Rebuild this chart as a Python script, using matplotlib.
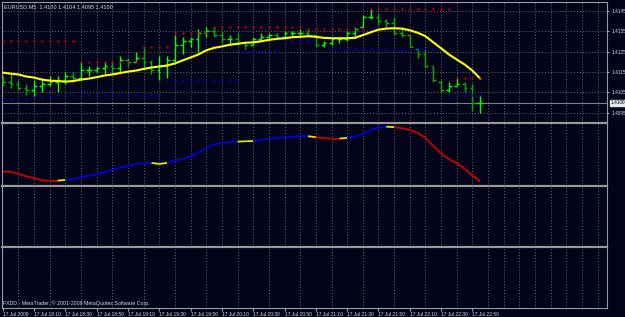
import matplotlib
matplotlib.use("Agg")
import matplotlib.pyplot as plt
from matplotlib.collections import LineCollection

# ---------------- data (EURUSD M5, 17 Jul 2009 17:50 - 22:55) ----------------
highs = [1.4113, 1.4114, 1.4111, 1.4109, 1.4111, 1.4112, 1.4113, 1.4113, 1.4115, 1.4115,
         1.4120, 1.4118, 1.4118, 1.4120, 1.4120, 1.4123, 1.4122, 1.4125, 1.4127, 1.4121,
         1.4123, 1.4123, 1.4133, 1.4132, 1.4132, 1.4136, 1.4137, 1.4137, 1.4135, 1.4133,
         1.4134, 1.4130, 1.4132, 1.4134, 1.4134, 1.4134, 1.4135, 1.4135, 1.4136, 1.4136,
         1.4133, 1.4130, 1.4131, 1.4132, 1.4135, 1.4137, 1.4143, 1.4146, 1.4144, 1.4141,
         1.4142, 1.4137, 1.4133, 1.4126, 1.4126, 1.4118, 1.4111, 1.4110, 1.4112, 1.4110,
         1.4109, 1.4104]
lows = [1.4108, 1.4107, 1.4106, 1.4104, 1.4103, 1.4105, 1.4108, 1.4105, 1.4109, 1.4110,
        1.4111, 1.4113, 1.4115, 1.4114, 1.4114, 1.4115, 1.4118, 1.4120, 1.4117, 1.4114,
        1.4111, 1.4112, 1.4120, 1.4124, 1.4127, 1.4125, 1.4132, 1.4132, 1.4129, 1.4128,
        1.4128, 1.4126, 1.4128, 1.4130, 1.4131, 1.4131, 1.4131, 1.4132, 1.4132, 1.4132,
        1.4127, 1.4127, 1.4128, 1.4129, 1.4130, 1.4132, 1.4137, 1.4141, 1.4138, 1.4137,
        1.4133, 1.4132, 1.4127, 1.4122, 1.4117, 1.4110, 1.4105, 1.4105, 1.4108, 1.4105,
        1.4096, 1.4095]
opens = [1.4111, 1.4110, 1.4109, 1.4107, 1.4106, 1.4108, 1.4109, 1.4110, 1.4111, 1.4113,
         1.4112, 1.4116, 1.4116, 1.4117, 1.4118, 1.4117, 1.4121, 1.4120, 1.4122, 1.4120,
         1.4116, 1.4118, 1.4121, 1.4128, 1.4130, 1.4131, 1.4134, 1.4135, 1.4133, 1.4131,
         1.4131, 1.4129, 1.4128, 1.4131, 1.4132, 1.4133, 1.4132, 1.4134, 1.4134, 1.4134,
         1.4133, 1.4128, 1.4129, 1.4131, 1.4131, 1.4134, 1.4137, 1.4142, 1.4142, 1.4140,
         1.4139, 1.4134, 1.4133, 1.4126, 1.4124, 1.4118, 1.4110, 1.4106, 1.4108, 1.4109,
         1.4107, 1.4100]
closes = [1.4110, 1.4109, 1.4107, 1.4106, 1.4108, 1.4109, 1.4110, 1.4111, 1.4113, 1.4112,
          1.4116, 1.4116, 1.4117, 1.4118, 1.4117, 1.4121, 1.4120, 1.4122, 1.4120, 1.4116,
          1.4118, 1.4121, 1.4128, 1.4130, 1.4131, 1.4134, 1.4135, 1.4133, 1.4131, 1.4131,
          1.4129, 1.4128, 1.4131, 1.4132, 1.4133, 1.4132, 1.4134, 1.4134, 1.4134, 1.4133,
          1.4128, 1.4129, 1.4131, 1.4131, 1.4134, 1.4136, 1.4142, 1.4142, 1.4140, 1.4139,
          1.4134, 1.4133, 1.4127, 1.4124, 1.4118, 1.4111, 1.4106, 1.4108, 1.4109, 1.4107,
          1.4100, 1.4100]

# yellow moving average
ma = [1.41147, 1.41142, 1.41138, 1.41128, 1.41123, 1.41113, 1.41108, 1.41106, 1.41103, 1.41106,
      1.41113, 1.41118, 1.41125, 1.41133, 1.41138, 1.41145, 1.41152, 1.41157, 1.41165, 1.41172,
      1.41177, 1.41182, 1.41192, 1.41207, 1.41221, 1.41236, 1.41256, 1.41268, 1.41275, 1.41283,
      1.41288, 1.41293, 1.41295, 1.41300, 1.41307, 1.41312, 1.41315, 1.41320, 1.41322, 1.41325,
      1.41322, 1.41317, 1.41315, 1.41315, 1.41315, 1.41317, 1.41330, 1.41344, 1.41357, 1.41362,
      1.41364, 1.41362, 1.41354, 1.41342, 1.41325, 1.41295, 1.41266, 1.41236, 1.41211, 1.41187,
      1.41157, 1.41118]

# red (upper) and blue (lower) dots, None = no dot
N = None
red_dots = [1.4130] * 10 + [1.4120] * 8 + [1.4127] * 4 + [1.4134] * 5 + [1.4137] * 12 \
    + [1.4136] * 8 + [1.4146] * 11 + [1.4112] * 4
blue_dots = [1.4102] * 4 + [1.4103] * 3 + [1.4104] * 14 + [1.4111] * 10 + [1.4125] * 5 \
    + [1.4130] * 4 + [N, N] + [1.4126] * 14 + [N] + [1.4104] * 5

# oscillator in sub window
osc = [14.3, 14.0, 12.0, 9.5, 7.7, 5.5, 5.3, 5.3, 6.0, 6.7,
       8.7, 10.0, 11.7, 14.0, 15.7, 18.0, 20.0, 21.7, 22.5, 22.7,
       21.7, 22.7, 25.0, 27.0, 29.3, 33.0, 37.5, 41.0, 42.5, 43.0,
       43.7, 44.0, 44.3, 45.7, 46.7, 47.3, 47.7, 48.5, 49.3, 49.0,
       48.0, 47.0, 46.7, 46.7, 47.3, 48.5, 51.0, 55.3, 57.5, 58.3,
       58.0, 56.8, 55.2, 52.2, 47.5, 39.3, 32.0, 26.5, 22.5, 17.0,
       10.3, 4.3]
osc_color = "RRRRRRRYBBBBBBBBBBBYYBBBBBBBBBYYBBBBBBBYRRRYBBBBBYRRRRRRRRRRR"

price_levels = [1.4095, 1.4105, 1.4115, 1.4125, 1.4135, 1.4145]
bid = 1.4100
time_pos = list(range(0, 61, 4))
time_labels = ["17 Jul 2009", "17 Jul 18:10", "17 Jul 18:30", "17 Jul 18:50",
               "17 Jul 19:10", "17 Jul 19:30", "17 Jul 19:50", "17 Jul 20:10",
               "17 Jul 20:30", "17 Jul 20:50", "17 Jul 21:10", "17 Jul 21:30",
               "17 Jul 21:50", "17 Jul 22:10", "17 Jul 22:30", "17 Jul 22:50"]

# ---------------- styling ----------------
BG = "#03031a"
FRAME = "#9a9a9a"
GRID = "#6a6a6a"
TXT = "#d8d8d8"
W, H = 625, 317

fig = plt.figure(figsize=(W / 100, H / 100), dpi=100, facecolor=BG)
plt.rcParams['font.family'] = ['Liberation Sans', 'DejaVu Sans']


def add_axes(top, bottom):
    ax = fig.add_axes([2 / W, 1 - bottom / H, 605 / W, (bottom - top) / H])
    ax.set_facecolor(BG)
    ax.set_xlim(-0.1, 77.2)
    ax.set_xticks(range(2, 78, 2), minor=True)
    ax.set_xticks([])
    ax.grid(which='minor', axis='x', color=GRID, linestyle=(0, (1, 2)), lw=0.7)
    for s in ax.spines.values():
        s.set_color(FRAME)
        s.set_linewidth(0.8)
    ax.spines['bottom'].set_linewidth(1.6)
    ax.tick_params(which='both', length=0, labelleft=False, labelbottom=False)
    return ax


main = add_axes(2, 123)
ind1 = add_axes(123, 186)
ind2 = add_axes(186, 247)
ind3 = add_axes(247, 308)
ind3.spines['bottom'].set_linewidth(0.8)

# ---- main chart ----
main.set_ylim(1.40901, 1.41492)
for lv in price_levels:
    main.axhline(lv, color=GRID, linestyle=(0, (1, 2)), lw=0.7, zorder=0)
main.axhline(bid, color="#808080", lw=0.8, zorder=1)

xs = list(range(len(highs)))
for i in xs:
    col = "#00ff00" if closes[i] >= opens[i] else "#00b000"
    main.vlines(i, lows[i], highs[i], color=col, lw=1.0, zorder=3)
    main.hlines(opens[i], i - 0.35, i, color=col, lw=1.0, zorder=3)
    main.hlines(closes[i], i, i + 0.35, color=col, lw=1.0, zorder=3)

main.plot(xs, ma, color="#ffff00", lw=1.5, zorder=4)
rx = [i for i in xs if red_dots[i] is not None]
main.plot(rx, [red_dots[i] for i in rx], ls='none', marker='s', ms=1.4,
          color="#e00000", mew=0, zorder=5)
bx = [i for i in xs if blue_dots[i] is not None]
main.plot(bx, [blue_dots[i] for i in bx], ls='none', marker='s', ms=1.4,
          color="#0000f0", mew=0, zorder=5)

main.yaxis.tick_right()
main.set_yticks(price_levels)
main.set_yticklabels([f"{v:.4f}" for v in price_levels])
main.tick_params(axis='y', which='major', length=1.5, color=FRAME, labelright=True,
                 labelsize=3.4, labelcolor=TXT, pad=1.5)
main.text(1.006, bid, f"{bid:.4f}", fontsize=3.4, color="#000000", va='center',
          ha='left', transform=main.get_yaxis_transform(), clip_on=False,
          bbox=dict(boxstyle='square,pad=0.15', fc="#e8e8e8", ec="#e8e8e8"))
main.text(0.004, 0.985, "EURUSD,M5  1.4100 1.4104 1.4095 1.4100", transform=main.transAxes,
          fontsize=4.0, color=TXT, va='top', ha='left')

# ---- indicator window ----
ind1.set_ylim(0, 62)
segs = [[(i, osc[i]), (i + 1, osc[i + 1])] for i in range(len(osc) - 1)]
cmap = {"R": "#d00000", "B": "#0000e0", "Y": "#e6e600"}
lc = LineCollection(segs, colors=[cmap[c] for c in osc_color], linewidths=1.3)
ind1.add_collection(lc)

# ---- time axis ----
ind3.set_xticks(time_pos)
ind3.set_xticklabels(time_labels, ha='left')
ind3.tick_params(axis='x', which='major', length=2, color=FRAME, labelbottom=True,
                 labelsize=3.5, labelcolor=TXT, pad=1)
ind3.text(0.002, 0.03, "FXDD - MetaTrader, \u00a9 2001-2009 MetaQuotes Software Corp.",
          transform=ind3.transAxes, fontsize=3.8, color=TXT, va='bottom', ha='left')

fig.savefig("out.png", dpi=100, facecolor=BG)
